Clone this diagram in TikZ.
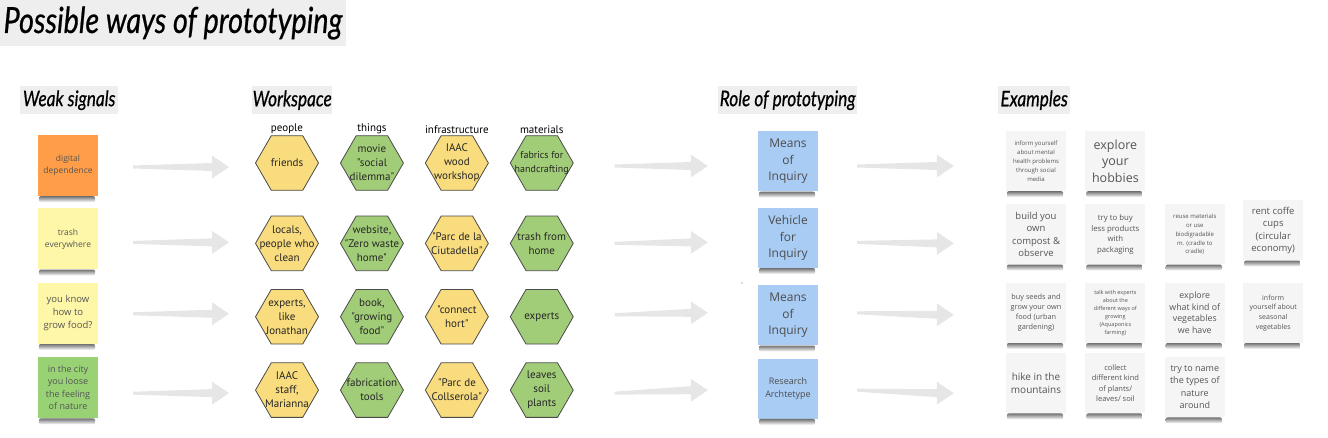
\documentclass[tikz,border=0pt]{standalone}
\usepackage{fontspec}
\newfontfamily\stickyfont{Open Sans}
\newfontfamily\hexfont{PT Sans}
\newfontfamily\handfont{Lato}[FakeStretch=0.8, FakeBold=0.6]
\usetikzlibrary{positioning, shapes.geometric, calc}

\definecolor{headgrey}{HTML}{EEEEEE}
\definecolor{arrowgrey}{HTML}{E6E6E6}
\definecolor{orangenote}{HTML}{FF9D48}
\definecolor{yellownote}{HTML}{FFF7A8}
\definecolor{greennote}{HTML}{98D275}
\definecolor{bluenote}{HTML}{A9CCF4}
\definecolor{whitenote}{HTML}{F5F5F5}
\definecolor{notetext}{HTML}{555555}
\definecolor{hexyellow}{HTML}{F8DC7E}
\definecolor{hexgreen}{HTML}{A2CD78}
\definecolor{hexline}{HTML}{4A4A4A}

\begin{document}
\begin{tikzpicture}[x=1pt, y=-1pt,
title box/.style={
fill=headgrey,
minimum width=346pt,
minimum height=46pt,
inner sep=0pt,
font=\handfont\itshape\fontsize{36}{36}\selectfont
},
head box/.style={
fill=headgrey,
minimum height=28pt,
inner sep=0pt,
anchor=north west,
font=\handfont\itshape\fontsize{21.5}{21.5}\selectfont
},
sticky/.style={
rectangle,
minimum width=60pt,
minimum height=60pt,
inner sep=1pt,
align=center,
text=notetext,
append after command={([xshift=1pt]\tikzlastnode.south west)
  edge[note shadow] ([xshift=-3pt,yshift=-6pt]\tikzlastnode.south east)}
},
note shadow/.style={draw=none, top color=black!55, bottom color=white,
  rounded corners=2pt, to path={(\tikztostart) rectangle (\tikztotarget)}},
fsz/.style 2 args={font=\stickyfont\fontsize{#1}{#2}\selectfont},
hexa/.style={
regular polygon,
regular polygon sides=6,
minimum size=63pt,
inner sep=-10pt,
draw=hexline,
line width=0.8pt,
align=center,
text=black!85,
font=\hexfont\fontsize{11}{14}\selectfont
},
col head/.style={inner sep=1pt, font=\hexfont\fontsize{11}{13}\selectfont},
fat arrow/.style={fill=arrowgrey, to path={
($(\tikztostart)+(0pt,1.5pt)$) -- ($(\tikztotarget)+(-17pt,4pt)$)
-- ($(\tikztotarget)+(-17pt,11.5pt)$) -- (\tikztotarget)
-- ($(\tikztotarget)+(-17pt,-11.5pt)$) -- ($(\tikztotarget)+(-17pt,-4pt)$)
-- ($(\tikztostart)+(0pt,-1.5pt)$) -- cycle}}
]
\useasboundingbox (0,0) rectangle (1328,438);

\node[title box] (title) at (173,23) {Possible ways of prototyping};

\node[head box, minimum width=98pt] (hweak) at (20,86) {Weak signals};
\node[head box, minimum width=80pt] (hwork) at (252,86) {Workspace};
\node[head box, minimum width=139pt] (hrole) at (718,86) {Role of prototyping};
\node[head box, minimum width=72pt] (hexam) at (998,86) {Examples};

% weak signals
\node[sticky, fill=orangenote, minimum height=61pt, fsz={8.5}{12}] (w1) at (68,165.5) {digital\\dependence};
\node[sticky, fill=yellownote, minimum height=61pt, fsz={8.5}{12}] (w2) [below=12pt of w1] {trash\\everywhere};
\node[sticky, fill=yellownote, minimum height=61pt, fsz={9.5}{13}] (w3) [below=13pt of w2] {you know\\how to\\grow food?};
\node[sticky, fill=greennote, minimum height=61pt, fsz={9}{12.5}] (w4) [below=13pt of w3] {in the city\\you loose\\the feeling\\of nature};

% workspace
\node[hexa, fill=hexyellow] (p1) at (287,163) {friends};
\node[hexa, fill=hexgreen] (t1) [right=21pt of p1] {movie\\"social\\dilemma"};
\node[hexa, fill=hexyellow] (i1) [right=21pt of t1] {IAAC\\wood\\workshop};
\node[hexa, fill=hexgreen, font=\hexfont\fontsize{10}{14}\selectfont] (m1) [right=21pt of i1] {fabrics for\\handcrafting};

\node[col head] (cpeople) [above=0pt of p1] {people};
\node[col head] (cthings) [above=0pt of t1] {things};
\node[col head] (cinfra) [above=0pt of i1] {infrastructure};
\node[col head] (cmat) [above=0pt of m1] {materials};

\node[hexa, fill=hexyellow] (p2) [below=25pt of p1] {locals,\\people who\\clean};
\node[hexa, fill=hexgreen] (t2) [right=21pt of p2] {website,\\"Zero waste\\home"};
\node[hexa, fill=hexyellow] (i2) [right=21pt of t2] {"Parc de la\\Ciutadella"};
\node[hexa, fill=hexgreen] (m2) [right=21pt of i2] {trash from\\home};

\node[hexa, fill=hexyellow] (p3) [below=18pt of p2] {experts,\\like\\Jonathan};
\node[hexa, fill=hexgreen] (t3) [right=21pt of p3] {book,\\"growing\\food"};
\node[hexa, fill=hexyellow] (i3) [right=21pt of t3] {"connect\\hort"};
\node[hexa, fill=hexgreen] (m3) [right=21pt of i3] {experts};

\node[hexa, fill=hexyellow] (p4) [below=18pt of p3] {IAAC\\staff,\\Marianna};
\node[hexa, fill=hexgreen] (t4) [right=21pt of p4] {fabrication\\tools};
\node[hexa, fill=hexyellow] (i4) [right=21pt of t4] {"Parc de\\Collserola"};
\node[hexa, fill=hexgreen] (m4) [right=21pt of i4] {leaves\\soil\\plants};

% role of prototyping
\node[sticky, fill=bluenote, text=black!70, fsz={12}{16.5}] (r1) at (788,161.5) {Means\\of\\Inquiry};
\node[sticky, fill=bluenote, text=black!70, fsz={12}{16.5}] (r2) [below=16pt of r1] {Vehicle\\for\\Inquiry};
\node[sticky, fill=bluenote, text=black!70, fsz={12}{16.5}] (r3) [below=17pt of r2] {Means\\of\\Inquiry};
\node[sticky, fill=bluenote, text=black!70, fsz={9}{13}] (r4) [below=13pt of r3] {Research\\Archtetype};
\fill[black!60] (742,283) circle (0.7);

% examples
\node[sticky, fill=whitenote, fsz={6}{9}] (e11) at (1036,161) {inform yourself\\about mental\\health problems\\through social\\media};
\node[sticky, fill=whitenote, fsz={12.5}{16.5}] (e12) [right=19pt of e11] {explore\\your\\hobbies};

\node[sticky, fill=whitenote, fsz={9.5}{12.5}] (e21) [below=13pt of e11] {build you\\own\\compost \&\\observe};
\node[sticky, fill=whitenote, fsz={7.8}{10.5}] (e22) [right=19pt of e21] {try to buy\\less products\\with\\packaging};
\node[sticky, fill=whitenote, fsz={6}{8.8}] (e23) [right=19pt of e22] {reuse materials\\or use\\biodigradable\\m. (cradle to\\cradle)};
\node[sticky, fill=whitenote, fsz={9.5}{12.5}] (e24) [right=18pt of e23, yshift=4pt] {rent coffe\\cups\\(circular\\economy)};

\node[sticky, fill=whitenote, fsz={7.3}{10}] (e31) [below=18pt of e21] {buy seeds and\\grow your own\\food (urban\\gardening)};
\node[sticky, fill=whitenote, fsz={5.5}{8}] (e32) [right=19pt of e31] {talk with experts\\about the\\different ways of\\growing\\(Aquaponics\\farming)};
\node[sticky, fill=whitenote, fsz={8.8}{11.7}] (e33) [right=19pt of e32] {explore\\what kind of\\vegetables\\we have};
\node[sticky, fill=whitenote, fsz={7}{9.7}] (e34) [right=18pt of e33] {inform\\yourself about\\seasonal\\vegetables};

\node[sticky, fill=whitenote, fsz={10}{13.3}] (e41) [below=10pt of e31] {hike in the\\mountains};
\node[sticky, fill=whitenote, fsz={7.5}{10.5}] (e42) [right=19pt of e41] {collect\\different kind\\of plants/\\leaves/ soil};
\node[sticky, fill=whitenote, fsz={9}{12.3}] (e43) [right=19pt of e42, yshift=-4pt] {try to name\\the types of\\nature\\around};

% arrows
\path[fat arrow] ([xshift=35pt,yshift=-1.5pt]w1.east) to ([xshift=-26pt,yshift=-4pt]p1.west);
\path[fat arrow] ([xshift=35pt,yshift=-3.5pt]w2.east) to ([xshift=-26pt,yshift=1pt]p2.west);
\path[fat arrow] ([xshift=35pt,yshift=-0.5pt]w3.east) to ([xshift=-26pt,yshift=3pt]p3.west);
\path[fat arrow] ([xshift=35pt,yshift=-5.5pt]w4.east) to ([xshift=-26pt,yshift=-3pt]p4.west);

\path[fat arrow] ([xshift=41pt,yshift=-3pt]m1.east) to ([xshift=-50pt,yshift=-4.5pt]r1.west);
\path[fat arrow] ([xshift=41pt]m2.east) to ([xshift=-50pt,yshift=-4.5pt]r2.west);
\path[fat arrow] ([xshift=41pt,yshift=2pt]m3.east) to ([xshift=-50pt,yshift=2.5pt]r3.west);
\path[fat arrow] ([xshift=41pt,yshift=-3pt]m4.east) to ([xshift=-50pt,yshift=-1.5pt]r4.west);

\path[fat arrow] ([xshift=39pt,yshift=-4.5pt]r1.east) to ([xshift=-52pt,yshift=-5pt]e11.west);
\path[fat arrow] ([xshift=39pt,yshift=-4.5pt]r2.east) to ([xshift=-52pt,yshift=-9pt]e21.west);
\path[fat arrow] ([xshift=39pt,yshift=2.5pt]r3.east) to ([xshift=-52pt,yshift=-2pt]e31.west);
\path[fat arrow] ([xshift=39pt,yshift=-1.5pt]r4.east) to ([xshift=-52pt,yshift=-10pt]e41.west);

\end{tikzpicture}
\end{document}
